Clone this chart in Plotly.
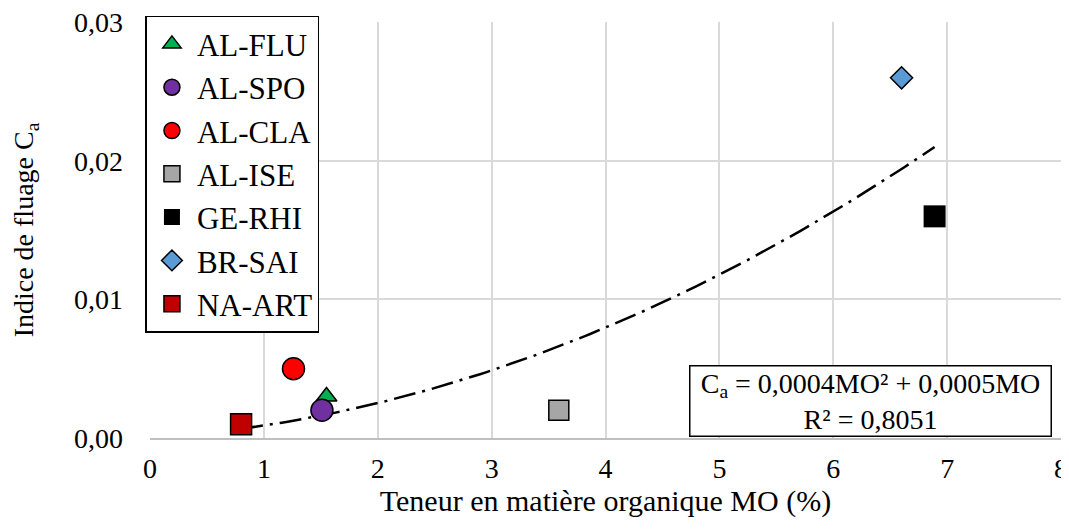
"""Creep index C_a vs organic matter content, with a zero-intercept quadratic trend."""

import numpy as np
import plotly.graph_objects as go

## ----------- data ----------- ##
SITES = ["AL-FLU", "AL-SPO", "AL-CLA", "AL-ISE", "GE-RHI", "BR-SAI", "NA-ART"]
MO_PCT = [1.55, 1.51, 1.26, 3.59, 6.89, 6.60, 0.80]
CA_VAL = [0.003, 0.002, 0.005, 0.002, 0.016, 0.026, 0.001]
X_TICKS = [0, 1, 2, 3, 4, 5, 6, 7, 8]
Y_TICKS = [0.00, 0.01, 0.02, 0.03]
EQ_TEXT = "C<sub>a</sub> = 0,0004MO² + 0,0005MO<br>R² = 0,8051"

## ----------- styles ----------- ##
STYLE = {
    "AL-FLU": dict(symbol="triangle-up", color="#00b050", size=18, lw=1.5),
    "AL-SPO": dict(symbol="circle", color="#7030a0", size=22, lw=1.5),
    "AL-CLA": dict(symbol="circle", color="#ff0000", size=22, lw=1.5),
    "AL-ISE": dict(symbol="square", color="#a6a6a6", size=20, lw=1.5),
    "GE-RHI": dict(symbol="square", color="#000000", size=22, lw=0),
    "BR-SAI": dict(symbol="diamond", color="#5b9bd5", size=17, lw=1.5),
    "NA-ART": dict(symbol="square", color="#c00000", size=21, lw=1.5),
}
FONT = "Liberation Serif"

fig = go.Figure()

# trend line: least squares fit of C_a = a*MO^2 + b*MO (no intercept, like Excel)
x_arr = np.array(MO_PCT)
y_arr = np.array(CA_VAL)
A = np.column_stack([x_arr ** 2, x_arr])
(a, b), *_ = np.linalg.lstsq(A, y_arr, rcond=None)
x_fit = np.linspace(x_arr.min(), x_arr.max(), 120)
fig.add_trace(
    go.Scatter(
        x=x_fit,
        y=a * x_fit ** 2 + b * x_fit,
        mode="lines",
        line=dict(color="black", width=2.5, dash="22px,7px,3px,7px"),
        showlegend=False,
        hoverinfo="skip",
    )
)

for i, site in enumerate(SITES):
    st = STYLE[site]
    fig.add_trace(
        go.Scatter(
            x=[MO_PCT[i]],
            y=[CA_VAL[i]],
            mode="markers",
            name=site,
            legendgroup=site,
            marker=dict(
                symbol=st["symbol"],
                size=st["size"],
                color=st["color"],
                line=dict(color="black", width=st["lw"]),
            ),
        )
    )

fig.add_annotation(
    xref="paper", yref="paper",
    x=0.9905, y=0.002,
    xanchor="right", yanchor="bottom",
    text=EQ_TEXT,
    showarrow=False,
    align="center",
    width=358,
    font=dict(family=FONT, size=28, color="black"),
    bgcolor="white",
    bordercolor="black",
    borderwidth=1.5,
    borderpad=1,
)

# page body has an 8px margin, so the figure is sized/offset for that
fig.update_layout(
    width=1061,
    height=515,
    margin=dict(l=142, r=8, t=14, b=85),
    paper_bgcolor="white",
    plot_bgcolor="white",
    separators=", ",
    font=dict(family=FONT, size=28, color="black"),
    showlegend=True,
    legend=dict(
        x=-0.005, y=1.015,
        xanchor="left", yanchor="top",
        bgcolor="white",
        bordercolor="black",
        borderwidth=1.5,
        font=dict(family=FONT, size=31, color="black"),
        tracegroupgap=0,
        itemsizing="trace",
        itemwidth=40,
        maxheight=1,
    ),
    xaxis=dict(
        range=[0, 8],
        tickvals=X_TICKS,
        showgrid=True,
        gridcolor="#d9d9d9",
        gridwidth=1.5,
        zeroline=False,
        showline=True,
        linecolor="#bfbfbf",
        linewidth=2,
        ticks="",
        automargin=False,
        ticklabelstandoff=4,
        ticklabeloverflow="allow",
        title=dict(text="Teneur en matière organique MO (%)", standoff=4,
                   font=dict(family=FONT, size=30)),
        tickfont=dict(family=FONT, size=28),
    ),
    yaxis=dict(
        range=[0, 0.03003],
        tickvals=Y_TICKS,
        tickformat=".2f",
        showgrid=True,
        gridcolor="#d9d9d9",
        gridwidth=1.5,
        zeroline=False,
        showline=False,
        ticks="",
        automargin=False,
        ticklabelstandoff=26,
        ticklabeloverflow="allow",
        title=dict(text="Indice de fluage C<sub>a</sub>", standoff=36,
                   font=dict(family=FONT, size=28)),
        tickfont=dict(family=FONT, size=28),
    ),
)

fig.write_html("out.html")
